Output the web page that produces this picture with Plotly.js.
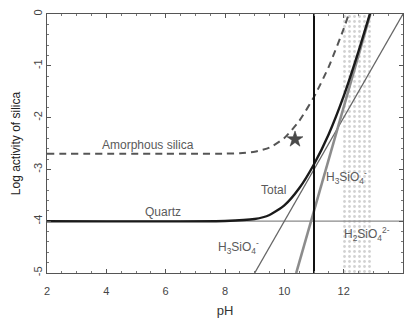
<!DOCTYPE html>
<html>
<head>
<meta charset="utf-8">
<script src="https://cdn.plot.ly/plotly-3.0.1.min.js"></script>
<style>html,body{margin:0;padding:0;background:#fff;}#chart{width:409px;height:320px;}</style>
</head>
<body>
<div id="chart"></div>
<script>
// Quartz: total dissolved silica
const quartzPH    = [2, 8, 9, 9.5, 10, 10.5, 11, 11.5, 12, 12.5, 12.9];
const quartzTotal = [-4.0, -3.996, -3.958, -3.88, -3.696, -3.365, -2.90, -2.315, -1.586, -0.721, 0.033];
// Amorphous silica total
const amorphPH    = [2, 6, 7, 8, 8.5, 9, 9.5, 10, 10.5, 11, 11.5, 12, 12.2];
const amorphTotal = [-2.70, -2.70, -2.70, -2.696, -2.686, -2.658, -2.579, -2.395, -2.064, -1.60, -1.015, -0.286, 0.046];
// Species lines (quartz saturation)
const h4PH = [2, 14];      const h4Log = [-4, -4];
const h3PH = [9, 14];      const h3Log = [-5, 0];
const h2PH = [10.4, 12.9]; const h2Log = [-5, 0];
// Vertical reference line at pH 11
const vPH = [11, 11];      const vLog = [-5, 0];
// Hatched band
const bandPH  = [11.95, 12.95, 12.95, 11.95, 11.95];
const bandLog = [-5, -5, 0, 0, -5];
// Star sample
const starPH = [10.36]; const starLog = [-2.42];
// Ticks
const xTicks = [2, 4, 6, 8, 10, 12, 14];
const yTicks = [0, -1, -2, -3, -4, -5];
const yTickText = ["0", "-1", "-2", "-3", "-4", "-5"];

const traces = [
  {x: bandPH, y: bandLog, mode: 'lines', fill: 'toself', fillcolor: 'rgba(0,0,0,0)',
   fillpattern: {shape: '.', fgcolor: '#d2d2d2', bgcolor: 'rgba(0,0,0,0)', size: 5, solidity: 0.25},
   line: {width: 0}, hoverinfo: 'skip'},
  {x: h4PH, y: h4Log, mode: 'lines', line: {color: '#8a8a8a', width: 1.2}},
  {x: h3PH, y: h3Log, mode: 'lines', line: {color: '#666', width: 1.3}},
  {x: h2PH, y: h2Log, mode: 'lines', line: {color: '#8c8c8c', width: 2.6}},
  {x: quartzPH, y: quartzTotal, mode: 'lines', line: {color: '#1a1a1a', width: 2.4, shape: 'spline', smoothing: 0.6}},
  {x: amorphPH, y: amorphTotal, mode: 'lines', line: {color: '#555', width: 2, dash: '7px,5px', shape: 'spline', smoothing: 0.6}},
  {x: vPH, y: vLog, mode: 'lines', line: {color: '#111', width: 2}},
  {x: starPH, y: starLog, mode: 'markers', marker: {symbol: 'star', size: 12, color: '#4a4a4a', line: {color: '#333', width: 0.5}}}
];

const lblFont = {family: 'Liberation Sans, Arial, sans-serif', size: 12, color: '#5a5a5a'};
const annotations = [
  {x: 5.4, y: -2.53, text: 'Amorphous silica', showarrow: false, font: lblFont},
  {x: 5.9, y: -3.82, text: 'Quartz', showarrow: false, font: lblFont},
  {x: 9.65, y: -3.4, text: 'Total', showarrow: false, font: lblFont},
  {x: 8.45, y: -4.5, text: 'H<sub>3</sub>SiO<sub>4</sub><sup>-</sup>', showarrow: false, font: lblFont},
  {x: 12.1, y: -3.15, text: 'H<sub>3</sub>SiO<sub>4</sub><sup>-</sup>', showarrow: false, font: lblFont},
  {x: 12.8, y: -4.25, text: 'H<sub>2</sub>SiO<sub>4</sub><sup>2-</sup>', showarrow: false, font: lblFont}
];

const axisCommon = {
  showgrid: false, zeroline: false, showline: true, linecolor: '#555', linewidth: 1,
  mirror: 'allticks', ticks: 'inside', ticklen: 4, tickcolor: '#555',
  tickfont: {family: 'Liberation Sans, Arial, sans-serif', size: 11, color: '#444'}
};

const layout = {
  width: 409, height: 320,
  margin: {l: 47, r: 6, t: 14, b: 47},
  paper_bgcolor: '#fff', plot_bgcolor: '#fff',
  showlegend: false,
  xaxis: Object.assign({}, axisCommon, {
    range: [2, 14], tickvals: xTicks, ticklabelstandoff: 8,
    minor: {dtick: 0.5, ticks: 'inside', ticklen: 2, tickcolor: '#777'},
    title: {text: 'pH', font: {family: 'Liberation Sans, Arial, sans-serif', size: 13, color: '#333'}, standoff: 9}
  }),
  yaxis: Object.assign({}, axisCommon, {
    range: [-5, 0], tickvals: yTicks, ticktext: yTickText, tickangle: -90,
    minor: {dtick: 0.2, ticks: 'inside', ticklen: 2, tickcolor: '#777'},
    title: {text: 'Log activity of silica', font: {family: 'Liberation Sans, Arial, sans-serif', size: 12, color: '#222'}, standoff: 8}
  }),
  annotations: annotations
};

Plotly.newPlot('chart', traces, layout, {displayModeBar: false, staticPlot: true});
</script>
</body>
</html>
